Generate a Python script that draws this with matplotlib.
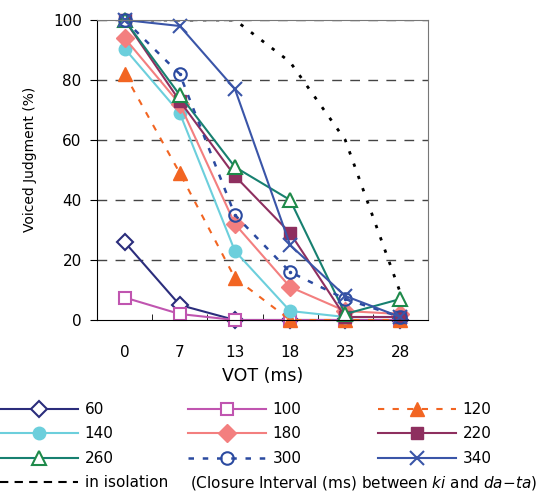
import numpy as np
import matplotlib
matplotlib.use("Agg")
import matplotlib.pyplot as plt
from matplotlib.lines import Line2D
from matplotlib.ticker import FixedLocator

plt.rcParams['font.family'] = ['DejaVu Sans']
plt.rcParams['font.size'] = 11

# data
vot_labels = ['0', '7', '13', '18', '23', '28']
v60 = [26, 5, 0, 0, 0, 0]
v100 = [7.5, 2, 0, 0, 0, 0]
v120 = [82, 49, 14, 0, 0, 0]
v140 = [90.5, 69, 23, 3, 1, 1]
v180 = [94, 72, 32, 11, 3, 2]
v220 = [100, 73, 48, 29, 1, 1]
v260 = [100, 75, 51, 40, 2, 7]
v300 = [100, 82, 35, 16, 7, 1]
v340 = [100, 98, 77, 25, 8, 1]
isolation = [100, 100, 100, 86, 60, 9]

x = np.arange(len(vot_labels))

fig = plt.figure(figsize=(5.42, 4.92), dpi=100)
ax = fig.add_axes([97/542, 1-320/492, (428-97)/542, 300/492])

for yv in [20, 40, 60, 80, 100]:
    ax.axhline(yv, color='#444444', lw=1, dashes=(7, 6), zorder=0)

ax.plot(x, isolation, color='black', lw=2, dashes=(1.2, 3.5), zorder=1)

ms = 9
l60, = ax.plot(x, v60, color='#2b2d7c', lw=1.5, marker='D', ms=8, mfc='white', mew=1.5, clip_on=False, label='60')
l100, = ax.plot(x, v100, color='#c055b0', lw=1.5, marker='s', ms=8, mfc='white', mew=1.5, clip_on=False, label='100')
l120, = ax.plot(x, v120, color='#f26522', lw=1.5, ls=(0, (3, 4)), marker='^', ms=ms + 1, clip_on=False, label='120')
l140, = ax.plot(x, v140, color='#6ccfdc', lw=1.5, marker='o', ms=ms, clip_on=False, label='140')
l180, = ax.plot(x, v180, color='#f37f7f', lw=1.5, marker='D', ms=ms, clip_on=False, label='180')
l220, = ax.plot(x, v220, color='#8e2f5f', lw=1.5, marker='s', ms=ms - 1, clip_on=False, label='220')
l260, = ax.plot(x, v260, color='#178070', lw=1.5, marker='^', ms=ms + 1, mfc='white', mec='#1e8a4a', mew=1.5, clip_on=False, label='260')
l300, = ax.plot(x, v300, color='#2b4aa0', lw=1.8, ls=(0, (2.2, 3.5)), marker='o', ms=ms, mfc='none', mew=1.5, clip_on=False, label='300')
ax.plot(x, v300, ls='none', color='#2b4aa0', marker='.', ms=3, clip_on=False)
l340, = ax.plot(x, v340, color='#3a55a8', lw=1.5, marker='x', ms=ms + 1, mew=1.5, clip_on=False, label='340')

ax.set_xlim(-0.5, 5.5)
ax.set_ylim(0, 100)
ax.set_xticks(x)
ax.set_xticklabels(vot_labels)
ax.xaxis.set_minor_locator(FixedLocator(x[:-1] + 0.5))
ax.tick_params(axis='x', which='major', length=0, pad=18)
ax.tick_params(axis='x', which='minor', direction='in', length=4, color='black')
ax.set_yticks([0, 20, 40, 60, 80, 100])
ax.tick_params(axis='y', direction='out', length=5, pad=6)
ax.set_xlabel('VOT (ms)', fontsize=12.5, labelpad=5)
ax.set_ylabel('Voiced Judgment (%)', fontsize=10)
ax.yaxis.set_label_coords(-60/331, 0.535)
for s in ['top', 'right']:
    ax.spines[s].set_color('#777777')

iso_h = Line2D([], [], color='black', lw=1.5, ls=(0, (4, 3)), label='in isolation')
cols = [([l60, l140, l260, iso_h], 0), ([l100, l180, l300], 188), ([l120, l220, l340], 378)]
for hs, px in cols:
    fig.legend(handles=hs, loc='upper left', bbox_to_anchor=(px/542, 1-402/492),
               frameon=False, handlelength=5.1, handletextpad=0.45,
               labelspacing=0.62, borderpad=0, borderaxespad=0, fontsize=11)

fig.text(190/542, 1-483/492, r'(Closure Interval (ms) between $\it{ki}$ and $\it{da}$$-$$\it{ta}$)',
         fontsize=11, va='center', ha='left')

fig.savefig('out.png', dpi=100)
